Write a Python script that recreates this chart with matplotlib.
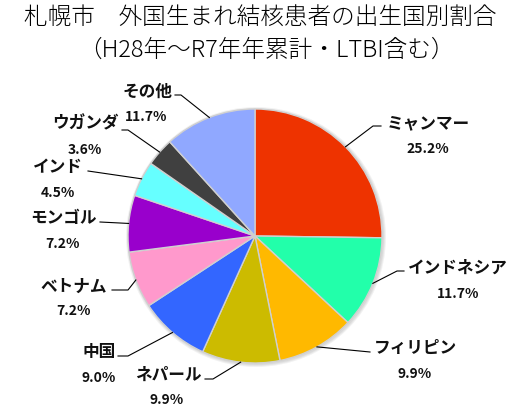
import matplotlib
matplotlib.use("Agg")
import numpy as np
import matplotlib.pyplot as plt
from matplotlib.patches import Circle

plt.rcParams['font.family'] = ['Noto Sans CJK JP', 'DejaVu Sans']

# --- data (counts, H28-R7 cumulative) ---
countries = ["ミャンマー", "インドネシア", "フィリピン", "ネパール", "中国",
             "ベトナム", "モンゴル", "インド", "ウガンダ", "その他"]
counts = [28, 13, 11, 11, 10, 8, 8, 5, 4, 13]
colors = ["#EE3300", "#22FFAA", "#FFB900", "#CCBB00", "#3366FF",
          "#FF99CC", "#9900CC", "#66FFFF", "#404040", "#90A8FF"]

# label layout in pixel coords (x, y from top): name center, line elbow, line end
name_pos = [(428, 123), (458, 268), (415, 348), (168, 375), (99, 352),
            (74, 287), (63, 218), (58, 167), (85, 123), (147, 92)]
pct_pos = [(428, 149), (458, 294), (415, 374), (167, 400), (99, 378),
           (73, 311), (62, 244), (58, 193), (85, 150), (146, 117)]
elbow = [(373, 127), (397, 272), (370, 353), (213, 380), (128, 357),
         (128, 291), (100, 223), (88, 172), (128, 131), (181, 96)]
line_end = [(381, 127), (404, 272), (370, 353), (205, 380), (118, 357),
            (112, 291), (100, 223), (88, 172), (122, 131), (175, 96)]

W, H = 531, 414
cx, cy, R = 255, 237, 127

fig = plt.figure(figsize=(W / 100, H / 100), dpi=100)
ax = fig.add_axes([0, 0, 1, 1])

# soft shadow
for k, a in enumerate([0.05, 0.05, 0.05]):
    ax.add_patch(Circle((cx + 1, H - cy - 1), R + 1 + k, color="black", alpha=a, lw=0, zorder=0))

wedges, _ = ax.pie(counts, startangle=90, counterclock=False, colors=colors,
                   center=(cx, H - cy), radius=R,
                   wedgeprops=dict(edgecolor="#d0d0d0", linewidth=1.0))
ax.set_xlim(0, W)
ax.set_ylim(0, H)
ax.set_aspect("equal")
ax.axis("off")

total = sum(counts)
for i, w in enumerate(wedges):
    mid = np.deg2rad((w.theta1 + w.theta2) / 2)
    ax_x = cx + R * np.cos(mid)
    ax_y = (H - cy) + R * np.sin(mid)
    xs = [ax_x, elbow[i][0], line_end[i][0]]
    ys = [ax_y, H - elbow[i][1], H - line_end[i][1]]
    ax.plot(xs, ys, color="black", lw=0.8, zorder=3)
    ax.text(name_pos[i][0], H - name_pos[i][1], countries[i], ha="center", va="center",
            fontsize=12, fontweight="bold", color="#111111")
    ax.text(pct_pos[i][0], H - pct_pos[i][1], f"{counts[i] / total * 100:.1f}%",
            ha="center", va="center", fontsize=10, fontweight="bold", color="#111111")

fig.text(260 / W, 1 - 17 / H, "札幌市　外国生まれ結核患者の出生国別割合",
         ha="center", va="center", fontsize=17, fontweight="light")
fig.text(266 / W, 1 - 50 / H, "（H28年～R7年年累計・LTBI含む）",
         ha="center", va="center", fontsize=17, fontweight="light")

fig.savefig("out.png", dpi=100)
